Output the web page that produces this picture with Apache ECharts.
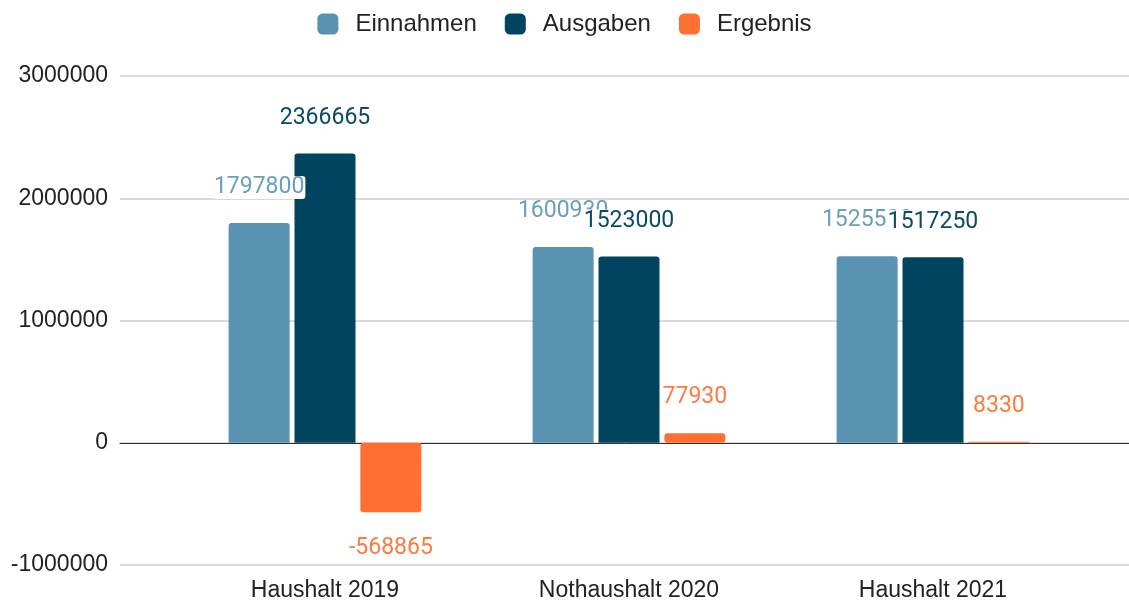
<!DOCTYPE html>
<html>
<head>
<meta charset="utf-8">
<script src="https://cdn.jsdelivr.net/npm/echarts@6/dist/echarts.min.js"></script>
<style>
  html, body { margin: 0; padding: 0; background: #fff; }
  #chart { width: 1129px; height: 603px; }
</style>
</head>
<body>
<div id="chart"></div>
<script>
const categories = ['Haushalt 2019', 'Nothaushalt 2020', 'Haushalt 2021'];
const einnahmen = [1797800, 1600930, 1525580];
const ausgaben = [2366665, 1523000, 1517250];
const ergebnis = [-568865, 77930, 8330];

const colors = ['#5a93b1', '#00445f', '#ff6f31'];

const chart = echarts.init(document.getElementById('chart'));

// Beschriftung über dem Balken, bei negativen Werten darunter
const labelFor = (color) => ({
    show: true,
    position: 'top',
    distance: 24,
    color: color,
    fontFamily: 'Roboto',
    fontSize: 23,
    backgroundColor: '#fff',
    borderRadius: 3,
    padding: [0, 1],
});

const toData = (list) => list.map(v => (v < 0 ? { value: v, label: { position: 'bottom' } } : v));

const yScale = { min: -1000000, max: 3000000, interval: 1000000 };

chart.setOption({
    animation: false,
    color: colors,
    legend: {
        top: 7,
        left: 'center',
        itemWidth: 21,
        itemHeight: 21,
        itemGap: 28,
        icon: 'roundRect',
        textStyle: { fontFamily: 'Liberation Sans', fontSize: 24, color: '#222', padding: [0, 0, 0, 12] },
        data: ['Einnahmen', 'Ausgaben', 'Ergebnis'],
    },
    grid: [
        { left: 120, right: 0, top: 76, bottom: 38 },
        { left: 173, right: 44, top: 76, bottom: 38 },
    ],
    xAxis: [
        {
            gridIndex: 0,
            type: 'value',
            min: 0,
            max: 1,
            axisLabel: { show: false },
            axisTick: { show: false },
            splitLine: { show: false },
            axisLine: { show: true, onZero: true, lineStyle: { color: '#333', width: 1 } },
        },
        {
            gridIndex: 1,
            type: 'category',
            data: categories,
            axisLine: { show: false, onZero: false },
            axisTick: { show: false },
            axisLabel: { fontFamily: 'Liberation Sans', fontSize: 23, color: '#222', margin: 14 },
        },
    ],
    yAxis: [
        {
            gridIndex: 0,
            type: 'value',
            ...yScale,
            axisLine: { show: false },
            axisTick: { show: false },
            axisLabel: {
                fontFamily: 'Liberation Sans',
                fontSize: 23,
                color: '#222',
                margin: 12,
                formatter: (v) => String(v),
            },
            splitLine: { lineStyle: { color: '#cccccc', width: 1.5 } },
        },
        {
            gridIndex: 1,
            type: 'value',
            ...yScale,
            show: false,
            splitLine: { show: false },
        },
    ],
    series: [
        {
            name: 'Einnahmen',
            type: 'bar',
            xAxisIndex: 1,
            yAxisIndex: 1,
            barWidth: 61,
            barGap: '8%',
            itemStyle: { borderRadius: [3, 3, 0, 0] },
            label: { ...labelFor('#6a9fbc') },
            data: toData(einnahmen),
        },
        {
            name: 'Ausgaben',
            type: 'bar',
            xAxisIndex: 1,
            yAxisIndex: 1,
            barWidth: 61,
            barGap: '8%',
            itemStyle: { borderRadius: [3, 3, 0, 0] },
            label: { ...labelFor('#0b4a66') },
            data: toData(ausgaben),
        },
        {
            name: 'Ergebnis',
            type: 'bar',
            xAxisIndex: 1,
            yAxisIndex: 1,
            barWidth: 61,
            barGap: '8%',
            itemStyle: { borderRadius: 3 },
            label: { ...labelFor('#ff7a40') },
            data: toData(ergebnis),
        },
    ],
});
</script>
</body>
</html>
